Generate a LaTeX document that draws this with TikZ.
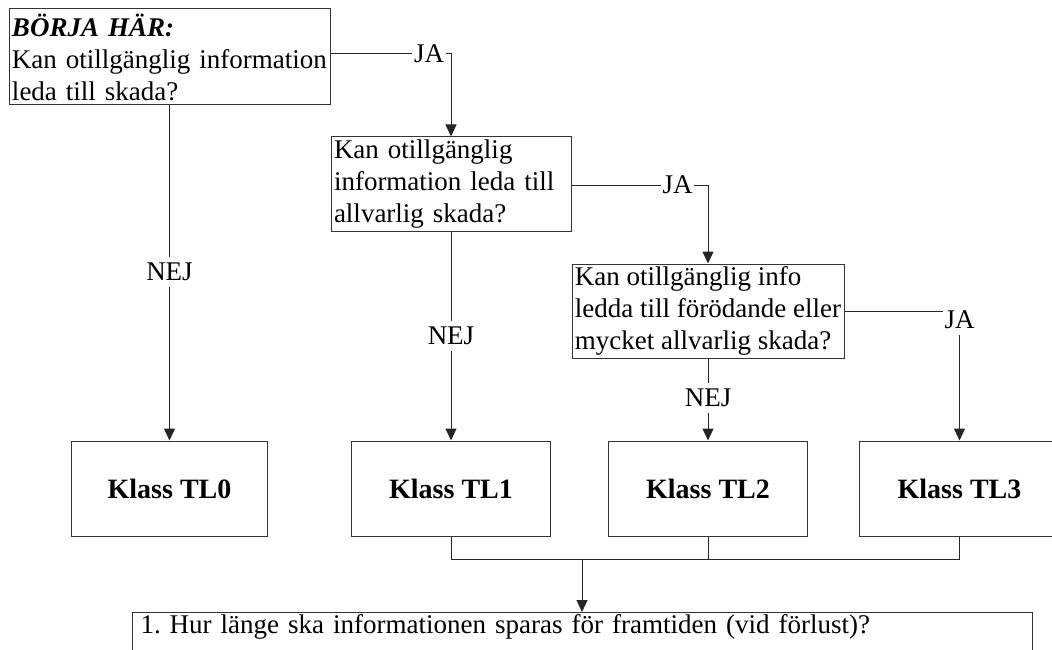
\documentclass[tikz,border=0pt]{standalone}
\usepackage{fontspec}
\setmainfont{Liberation Serif}
\usetikzlibrary{arrows.meta}

\begin{document}
\begin{tikzpicture}[x=1pt,y=1pt,yscale=-1,xscale=1,
  qbox/.style={draw=black!80,line width=1pt,rectangle,align=left,inner xsep=3pt,inner ysep=0pt,font=\fontsize{27}{32}\selectfont},
  klass/.style={draw=black!80,line width=1pt,rectangle,minimum height=95pt,font=\fontsize{28}{32}\selectfont\bfseries},
  lbl/.style={inner xsep=1.5pt,inner ysep=6pt,font=\fontsize{27}{32}\selectfont},
  link/.style={line width=1pt,black!85},
  arr/.style={link,-{Triangle[length=12pt,width=11pt]}}]
%set diagram to 1052 x 650, box TL3 and the last box run out of it
\useasboundingbox (0,0) rectangle (1052,650);
\clip (0,0) rectangle (1052,650);

% Text Node
\node[qbox,text width=315pt,minimum height=96pt] (qa) at (169.5,57) {\textbf{\textit{BÖRJA HÄR:}}\\Kan otillgänglig information\\leda till skada?\par\vspace*{9pt}};
% Text Node
\node[qbox,text width=234pt,minimum height=94pt] (qb) at (451,184) {Kan otillgänglig\\information leda till\\allvarlig skada?};
% Text Node
\node[qbox,inner xsep=2pt,minimum width=272pt,minimum height=94pt] (qc) at (708,311) {Kan otillgänglig info\\ledda till förödande eller\\mycket allvarlig skada?};

% Text Node
\node[klass,minimum width=196pt] (tl0) at (169.5,488.5) {Klass TL0};
% Text Node
\node[klass,minimum width=199pt] (tl1) at (451,488.5) {Klass TL1};
% Text Node
\node[klass,minimum width=199pt] (tl2) at (708,488.5) {Klass TL2};
% Text Node
\node[klass,minimum width=200pt] (tl3) at (959.5,488.5) {Klass TL3};

% Text Node
\node[qbox,anchor=north west,text width=884pt,inner xsep=8pt,inner ysep=1.5pt,text depth=60pt] (fq) at (132,612) {1.\ Hur länge ska informationen sparas för framtiden (vid förlust)?};

% Text Node
\node[lbl] (jaA) at (429,54) {JA};
\node[lbl] (jaB) at (677.5,185) {JA};
\node[lbl] (jaC) at (959.5,320) {JA};
\node[lbl] (nejA) at (169.5,272) {NEJ};
\node[lbl] (nejB) at (451,336) {NEJ};
\node[lbl] (nejC) at (708,398) {NEJ};
\coordinate (bus) at (582,559);

%JA branches
\draw[link] (qa.east |- jaA) -- (jaA);
\draw[arr] (jaA) -| (qb);
\draw[link] (qb.east |- jaB) -- (jaB);
\draw[arr] (jaB) -| (qc);
\draw[link] (qc.east) -- (qc.east -| jaC.west);
\draw[arr] (jaC) -- (tl3);
%NEJ branches
\draw[link] (qa) -- (nejA);
\draw[arr] (nejA) -- (tl0);
\draw[link] (qb) -- (nejB);
\draw[arr] (nejB) -- (tl1);
\draw[link] (qc) -- (nejC);
\draw[arr] (nejC) -- (tl2);
%collect TL1-TL3
\draw[link] (tl1.south) -- (tl1.south |- bus) -- (tl3.south |- bus) -- (tl3.south);
\draw[link] (tl2.south) -- (tl2.south |- bus);
\draw[arr] (bus) -- (bus |- fq.north);

\end{tikzpicture}
\end{document}
